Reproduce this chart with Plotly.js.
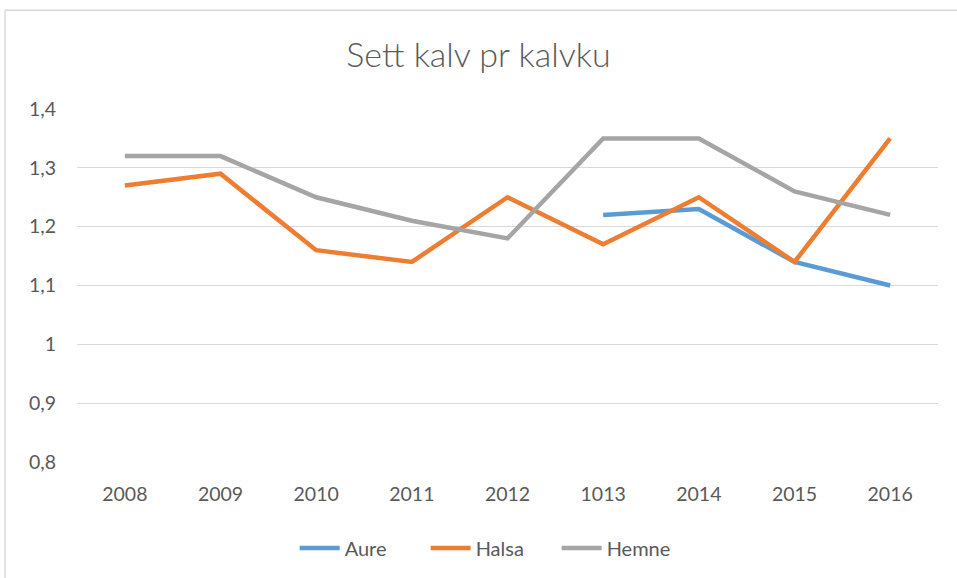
<!DOCTYPE html>
<html><head><meta charset="utf-8">
<script src="https://cdn.plot.ly/plotly-3.0.1.min.js"></script>
<style>html,body{margin:0;padding:0;background:#fff;}#chart{width:957px;height:578px;}</style>
</head><body><div id="chart"></div>
<script>
var categories = ['2008','2009','2010','2011','2012','1013','2014','2015','2016'];
var aure  = [null, null, null, null, null, 1.22, 1.23, 1.14, 1.10];
var halsa = [1.27, 1.29, 1.16, 1.14, 1.25, 1.17, 1.25, 1.14, 1.35];
var hemne = [1.32, 1.32, 1.25, 1.21, 1.18, 1.35, 1.35, 1.26, 1.22];
var yTickVals = [0.8, 0.9, 1.0, 1.1, 1.2, 1.3, 1.4];
var yTickText = ['0,8', '0,9', '1', '1,1', '1,2', '1,3', '1,4'];

function tr(name, y, color) {
  return {type:'scatter', mode:'lines', name:name, x:categories, y:y,
    line:{color:color, width:4.5}, connectgaps:false, hoverinfo:'skip'};
}
var data = [tr('Aure', aure, '#5B9BD5'), tr('Halsa', halsa, '#ED7D31'), tr('Hemne', hemne, '#A5A5A5')];

var layout = {
  width:957, height:578,
  margin:{l:77, r:19, t:109, b:115},
  paper_bgcolor:'#fff', plot_bgcolor:'#fff',
  font:{family:'Lato, "Open Sans", sans-serif', color:'#595959', size:19},
  title:{text:'Sett kalv pr kalvku', font:{size:34, color:'#595959', family:'Lato, sans-serif', weight:300}, x:0.5, xanchor:'center', y:0.905, yanchor:'middle'},
  xaxis:{type:'category', range:[-0.5, 8.5], showgrid:false, zeroline:false, showline:false,
    ticks:'', tickfont:{size:19.5, color:'#595959'}, ticklabelstandoff:18, fixedrange:true},
  yaxis:{range:[0.8, 1.4], tickvals:yTickVals, ticktext:yTickText, showgrid:true, gridcolor:'#D9D9D9', gridwidth:1.3,
    zeroline:false, showline:false, ticks:'', tickfont:{size:19.5, color:'#595959'}, ticklabelstandoff:20, fixedrange:true},
  showlegend:true,
  legend:{orientation:'h', x:0.481, xanchor:'center', y:-0.24, yanchor:'middle', font:{size:20, color:'#595959'},
    itemwidth:40, entrywidth:76, entrywidthmode:'pixels', tracegroupgap:0},
  shapes:[{type:'rect', xref:'paper', yref:'paper', x0:-0.0836, x1:1.03, y0:-0.35, y1:1.2797,
    line:{color:'#D9D9D9', width:1.5}, fillcolor:'rgba(0,0,0,0)', layer:'below'}]
};
Plotly.newPlot('chart', data, layout, {displayModeBar:false, staticPlot:true});
</script></body></html>
